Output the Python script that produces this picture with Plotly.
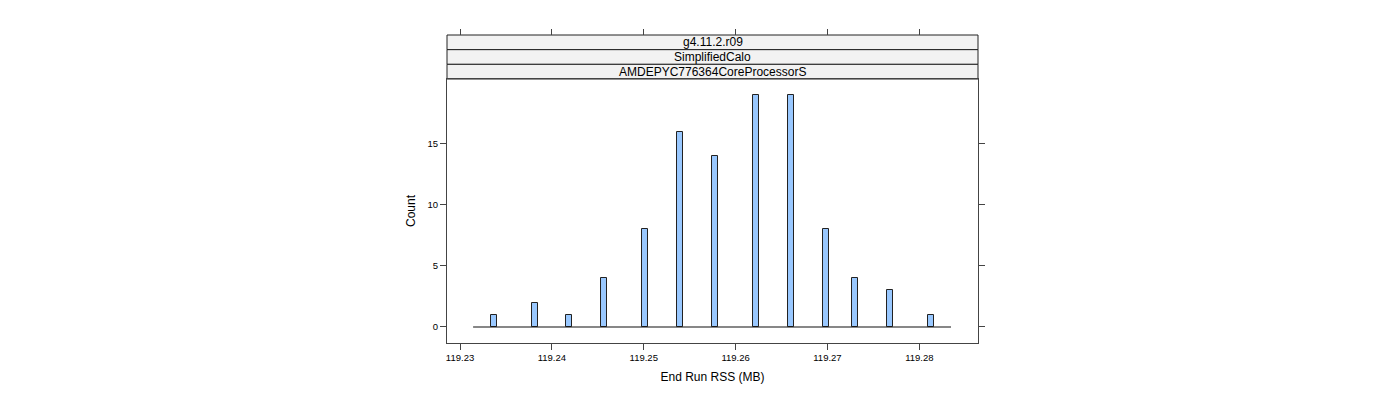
import plotly.graph_objects as go

# ---- data ----
bin_centers = [119.23369, 119.23811, 119.24190, 119.24572, 119.25015, 119.25397,
               119.25779, 119.26226, 119.26604, 119.26982, 119.27297, 119.27682,
               119.28128]
counts = [1, 2, 1, 4, 8, 16, 14, 19, 19, 8, 4, 3, 1]
bin_width = 0.00065
hist_range = [119.23142, 119.28345]     # span of the (mostly empty) histogram bins
x_range = [119.22858, 119.28639]
y_range = [-1.31, 20.3]
x_ticks = [119.23, 119.24, 119.25, 119.26, 119.27, 119.28]
x_ticktext = ["119.23", "119.24", "119.25", "119.26", "119.27", "119.28"]
y_ticks = [0, 5, 10, 15]
strip_labels = ["g4.11.2.r09", "SimplifiedCalo", "AMDEPYC776364CoreProcessorS"]

FONT = "Liberation Sans, Arial, sans-serif"
AXC = "#444444"
panel_top = 0.8571

fig = go.Figure()
# baseline of zero-height bins
fig.add_trace(go.Scatter(x=hist_range, y=[0, 0], mode="lines",
                         line=dict(color="#111111", width=1.2),
                         hoverinfo="skip", showlegend=False))
fig.add_trace(go.Bar(x=bin_centers, y=counts, width=bin_width,
                     marker=dict(color="#99C8FF", line=dict(color="#222222", width=1)),
                     showlegend=False))
# invisible trace to carry the top tick axis
fig.add_trace(go.Scatter(x=[bin_centers[0]], y=[0], xaxis="x2", yaxis="y",
                         mode="markers", marker=dict(opacity=0),
                         hoverinfo="skip", showlegend=False))

axis_common = dict(showgrid=False, zeroline=False, linecolor=AXC, linewidth=1,
                   tickcolor=AXC, ticklen=6, tickwidth=1,
                   tickfont=dict(family=FONT, size=9.5, color="#000000"))

fig.update_layout(
    width=1400, height=400,
    margin=dict(l=447, r=422, t=35, b=57),
    paper_bgcolor="white", plot_bgcolor="white",
    font=dict(family=FONT, color="#000000"),
    bargap=0,
    xaxis=dict(range=x_range, tickvals=x_ticks, ticktext=x_ticktext, ticks="outside",
               showline=True, mirror=True,
               title=dict(text="End Run RSS (MB)", font=dict(size=12), standoff=10),
               **axis_common),
    xaxis2=dict(range=x_range, tickvals=x_ticks, ticks="outside", showticklabels=False,
                overlaying="x", side="top", anchor="free", position=1,
                showline=False, **axis_common),
    yaxis=dict(range=y_range, tickvals=y_ticks, ticks="outside", domain=[0, panel_top],
               showline=True, mirror="ticks",
               title=dict(text="Count", font=dict(size=12), standoff=9),
               **axis_common),
)

# strips
n = len(strip_labels)
h = (1 - panel_top) / n
for i, lab in enumerate(strip_labels):
    y1 = 1 - i * h
    y0 = y1 - h
    fig.add_shape(type="rect", xref="paper", yref="paper", x0=0, x1=1, y0=y0, y1=y1,
                  fillcolor="#F2F2F2", line=dict(color="#222222", width=1), layer="below")
    fig.add_annotation(xref="paper", yref="paper", x=0.5, y=(y0 + y1) / 2, text=lab,
                       showarrow=False, font=dict(family=FONT, size=12, color="#000000"),
                       xanchor="center", yanchor="middle")

fig.write_html("out.html")
